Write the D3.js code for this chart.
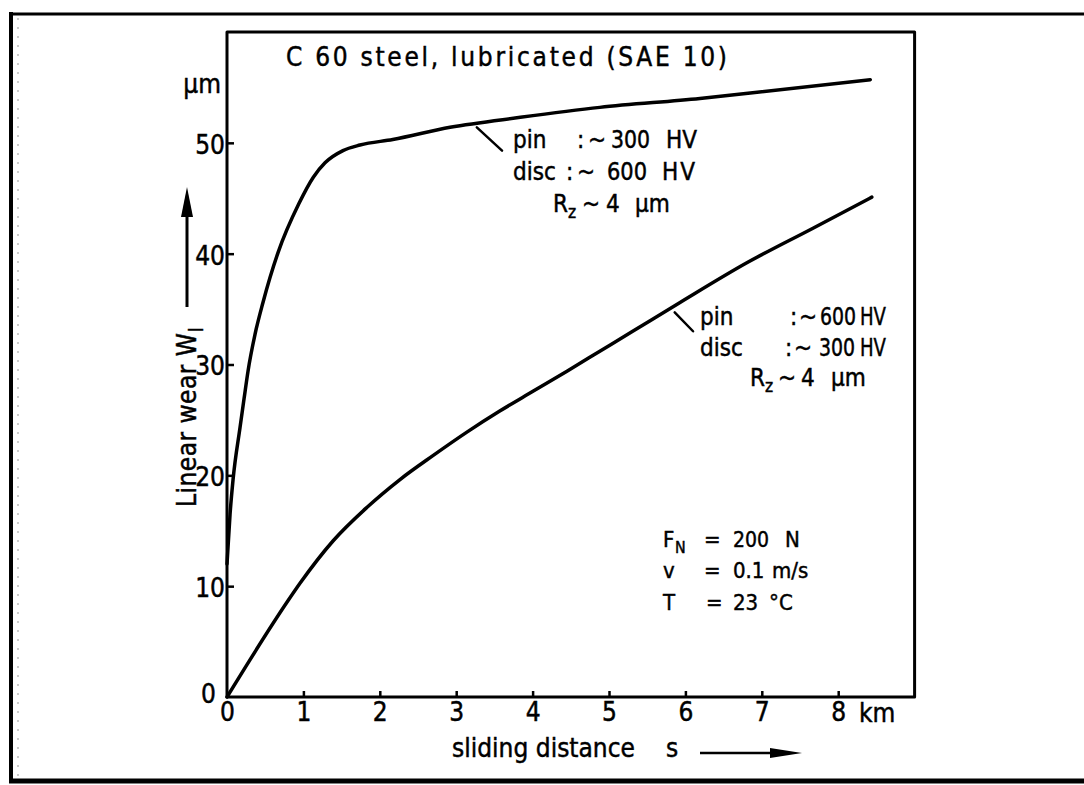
<!DOCTYPE html>
<html><head><meta charset="utf-8">
<script src="https://cdn.jsdelivr.net/npm/d3@7"></script>
<style>
body{margin:0;background:#fff;}
svg{display:block;}
text{font-family:"DejaVu Sans","DejaVu Sans Condensed",sans-serif;font-stretch:condensed;fill:#000;stroke:#000;stroke-width:0.45px;}
</style></head><body>
<svg id="c" width="1084" height="785"></svg>
<script>
// ---- data ----
const xTicks = [0,1,2,3,4,5,6,7,8];
const yTicks = [0,10,20,30,40,50];
// pin ~300 HV / disc ~600 HV
const distA = [0, 0.04, 0.079, 0.17, 0.223, 0.275, 0.366, 0.471, 0.668, 0.94, 1.13, 1.283, 1.518, 1.741, 2.17, 2.92, 3.84, 4.88, 6.19, 6.85, 8.42];
const wearA = [12, 16.5, 19.6, 24.3, 26.9, 29.4, 32.7, 35.6, 40.1, 44.5, 46.9, 48.2, 49.3, 49.8, 50.3, 51.4, 52.3, 53.2, 54.0, 54.5, 55.7];
// pin ~600 HV / disc ~300 HV
const distB = [0, 0.80, 0.96, 1.39, 1.83, 2.26, 2.70, 3.14, 3.57, 4.01, 4.45, 4.88, 5.31, 5.93, 6.81, 7.67, 8.44];
const wearB = [0, 8.7, 10.3, 14.1, 17.1, 19.6, 21.8, 23.9, 25.8, 27.6, 29.4, 31.2, 33.0, 35.6, 39.2, 42.3, 45.1];

const svg = d3.select("#c");
const x = d3.scaleLinear().domain([0,9]).range([227,914.6]);
const y = d3.scaleLinear().domain([0,60]).range([697,32]);

// outer frame
svg.append("line").attr("x1",10).attr("y1",14).attr("x2",1084).attr("y2",14).attr("stroke","#000").attr("stroke-width",3);
svg.append("line").attr("x1",11).attr("y1",12).attr("x2",11).attr("y2",783).attr("stroke","#000").attr("stroke-width",4);
svg.append("line").attr("x1",9).attr("y1",781).attr("x2",1084).attr("y2",781).attr("stroke","#000").attr("stroke-width",5);
svg.append("line").attr("x1",18).attr("y1",18).attr("x2",18).attr("y2",778).attr("stroke","#999").attr("stroke-width",1).attr("stroke-dasharray","2,7");

// plot box
svg.append("rect").attr("x",x(0)).attr("y",y(60)).attr("width",x(9)-x(0)).attr("height",y(0)-y(60))
  .attr("fill","none").attr("stroke","#000").attr("stroke-width",3).attr("stroke-linejoin","round");

function fit(t, w){
  const n = t.node().getComputedTextLength();
  t.attr("textLength", w).attr("lengthAdjust", n > w ? "spacingAndGlyphs" : "spacing");
  return t;
}

// axes
const FS = 26;
const xAxis = d3.axisBottom(x).tickValues(xTicks).tickSize(-6).tickPadding(6).tickFormat(d3.format("d"));
const gx = svg.append("g").attr("transform",`translate(0,${y(0)})`).call(xAxis);
gx.select(".domain").remove();
gx.selectAll(".tick line").attr("stroke","#000").attr("stroke-width",2.5);
gx.selectAll(".tick text").attr("font-size",FS).attr("font-family",null).attr("fill","#000").attr("dy","0.68em");
gx.selectAll(".tick").filter(d=>d===0).select("line").remove();

const yAxis = d3.axisLeft(y).tickValues(yTicks).tickSize(-7).tickPadding(2).tickFormat(d3.format("d"));
const gy = svg.append("g").attr("transform",`translate(${x(0)},0)`).call(yAxis);
gy.select(".domain").remove();
gy.selectAll(".tick line").attr("stroke","#000").attr("stroke-width",2.5);
gy.selectAll(".tick text").attr("font-size",FS).attr("font-family",null).attr("fill","#000").attr("dy","0.4em");
gy.selectAll(".tick").filter(d=>d===0).select("line").remove();
gy.selectAll(".tick").filter(d=>d===0).select("text").attr("x",-11).attr("dy","0.2em");

function txt(px, py, s, size, opts={}){
  const t = svg.append("text").attr("x",px).attr("y",py).attr("font-size",size).text(s);
  if(opts.anchor) t.attr("text-anchor",opts.anchor);
  if(opts.w) fit(t, opts.w);
  return t;
}
function row(py, size, pieces){
  pieces.forEach(p=>{
    if(p.sub){
      svg.append("text").attr("x",p[0]).attr("y",py+size*0.25).attr("font-size",size*0.72).text(p[1]);
    } else txt(p[0], py, p[1], size, {w:p[2]});
  });
}
function S(px, s){ const a=[px,s]; a.sub=true; return a; }

// unit labels
txt(x(0)-6, 93, "μm", FS, {anchor:"end"});
txt(859, 722, "km", FS);

// title
txt(286, 66, "C 60 steel, lubricated (SAE 10)", FS, {w:441});

// curves
const path = d3.line().x(d=>x(d[0])).y(d=>y(d[1])).curve(d3.curveMonotoneX);
svg.append("path").datum(distA.map((d,i)=>[d,wearA[i]])).attr("d",path)
  .attr("fill","none").attr("stroke","#000").attr("stroke-width",3.5).attr("stroke-linecap","round");
svg.append("path").datum(distB.map((d,i)=>[d,wearB[i]])).attr("d",path)
  .attr("fill","none").attr("stroke","#000").attr("stroke-width",3.5).attr("stroke-linecap","round");

// leaders
function leader(a,b){
  svg.append("line").attr("x1",x(a[0])).attr("y1",y(a[1])).attr("x2",x(b[0])).attr("y2",y(b[1]))
    .attr("stroke","#000").attr("stroke-width",2.5).attr("stroke-linecap","round");
}
leader([3.27,51.4],[3.60,49.3]);
leader([5.86,34.7],[6.10,33.0]);

// annotation A
const FA = 24;
row(148, FA, [[513,"pin"],[577,":"],[588,"~"],[611,"300",39],[666,"HV",31]]);
row(180, FA, [[513,"disc"],[566,":"],[577,"~"],[607,"600",40],[662,"HV",33]]);
row(212, FA, [[553,"R"],S(568,"z"),[582,"~"],[606,"4"],[635,"μm"]]);

// annotation B
row(325, FA, [[700,"pin"],[790,":"],[799,"~"],[820,"600",36],[860,"HV",26]]);
row(356, FA, [[700,"disc"],[785,":"],[794,"~"],[819,"300",36],[860,"HV",26]]);
row(386, FA, [[750,"R"],S(765,"z"),[778,"~"],[801,"4"],[831,"μm"]]);

// conditions
const FC = 22;
row(547, FC, [[663,"F"],S(675,"N"),[704,"="],[733,"200",36],[785,"N"]]);
row(578, FC, [[663,"v"],[704,"="],[733,"0.1"],[772,"m/s"]]);
row(610, FC, [[663,"T"],[706,"="],[733,"23"],[769,"°C"]]);

// x axis title + arrow
txt(452, 757, "sliding distance", FS, {w:183});
txt(666, 757, "s", FS);
svg.append("line").attr("x1",700).attr("y1",753).attr("x2",775).attr("y2",753).attr("stroke","#000").attr("stroke-width",2.5);
svg.append("path").attr("d","M802,753 L770,748 L770,758 Z").attr("fill","#000");

// y axis title + arrow
const yg = svg.append("g").attr("transform","translate(196,507) rotate(-90)");
const yl = yg.append("text").attr("x",0).attr("y",0).attr("font-size",FS).text("Linear wear W");
fit(yl, 174);
yg.append("text").attr("x",175).attr("y",FS*0.25).attr("font-size",FS*0.72).text("l");
svg.append("line").attr("x1",187).attr("y1",307).attr("x2",187).attr("y2",212).attr("stroke","#000").attr("stroke-width",3);
svg.append("path").attr("d","M187,187 L181,217 L193,217 Z").attr("fill","#000");
</script>
</body></html>
